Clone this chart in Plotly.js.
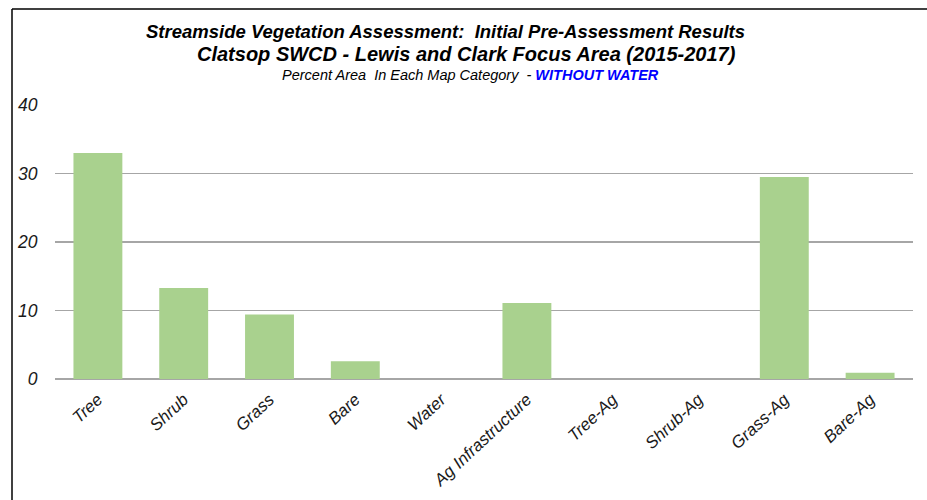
<!DOCTYPE html>
<html>
<head>
<meta charset="utf-8">
<script src="https://cdn.plot.ly/plotly-3.0.1.min.js"></script>
<style>html,body{margin:0;padding:0;background:#fff}#chart{width:927px;height:500px}</style>
</head>
<body>
<div id="chart"></div>
<script>
const categories = ["Tree","Shrub","Grass","Bare","Water","Ag Infrastructure","Tree-Ag","Shrub-Ag","Grass-Ag","Bare-Ag"];
const percentArea = [33.0, 13.3, 9.4, 2.6, 0, 11.1, 0, 0, 29.5, 0.9];
const yTicks = [0, 10, 20, 30, 40];

const W = 927, H = 500;
const L = 55, R = 14, T = 105, B = 121;
const pw = W - L - R, ph = H - T - B;
const px = x => (x - L) / pw;
const py = y => (H - B - y) / ph;

const trace = {
  type: 'bar',
  x: categories,
  y: percentArea,
  marker: {color: '#a9d18e', line: {width: 0}},
  hoverinfo: 'x+y'
};

const layout = {
  width: W, height: H,
  margin: {l: L, r: R, t: T, b: B, pad: 0},
  paper_bgcolor: '#ffffff', plot_bgcolor: '#ffffff',
  showlegend: false,
  bargap: 0.43,
  font: {family: 'Liberation Sans, Arial, sans-serif', color: '#1a1a1a'},
  xaxis: {
    type: 'category',
    tickangle: -43,
    tickvals: categories,
    ticktext: categories.map(c => '<i>' + c + '</i>'),
    tickfont: {size: 17, family: 'Liberation Sans, Arial, sans-serif', style: 'italic', color: '#1a1a1a'},
    showgrid: false, showline: false, zeroline: false,
    ticks: 'outside', ticklen: 3, tickcolor: 'rgba(0,0,0,0)'
  },
  yaxis: {
    range: [0, 40],
    tickvals: yTicks,
    ticktext: yTicks.map(v => '<i>' + v + '</i>'),
    tickfont: {size: 17.5, family: 'Liberation Sans, Arial, sans-serif', style: 'italic', color: '#1a1a1a'},
    showgrid: true, gridcolor: '#a6a6a6', gridwidth: 1.5,
    zeroline: true, zerolinecolor: '#a6a6a6', zerolinewidth: 1.5,
    showline: false,
    ticks: 'outside', ticklen: 13, tickcolor: 'rgba(0,0,0,0)'
  },
  shapes: [
    {type: 'line', xref: 'paper', yref: 'paper', x0: px(12), x1: px(927), y0: py(9), y1: py(9), line: {color: '#000', width: 1.5}},
    {type: 'line', xref: 'paper', yref: 'paper', x0: px(12), x1: px(12), y0: py(9), y1: py(500), line: {color: '#000', width: 1.5}}
  ],
  annotations: [
    {xref: 'paper', yref: 'paper', x: px(445), y: py(31), xanchor: 'center', yanchor: 'middle', showarrow: false,
     text: '<b><i>Streamside Vegetation Assessment:  Initial Pre-Assessment Results</i></b>',
     font: {size: 18.5, family: 'Liberation Sans, Arial, sans-serif', color: '#000'}},
    {xref: 'paper', yref: 'paper', x: px(466), y: py(54), xanchor: 'center', yanchor: 'middle', showarrow: false,
     text: '<b><i>Clatsop SWCD - Lewis and Clark Focus Area (2015-2017)</i></b>',
     font: {size: 20, family: 'Liberation Sans, Arial, sans-serif', color: '#000'}},
    {xref: 'paper', yref: 'paper', x: px(470), y: py(75), xanchor: 'center', yanchor: 'middle', showarrow: false,
     text: '<i>Percent Area  In Each Map Category  - </i><b><i><span style="color:#0000ff">WITHOUT WATER</span></i></b>',
     font: {size: 14.5, family: 'Liberation Sans, Arial, sans-serif', color: '#000'}}
  ]
};

Plotly.newPlot('chart', [trace], layout, {displayModeBar: false, staticPlot: true});
</script>
</body>
</html>
